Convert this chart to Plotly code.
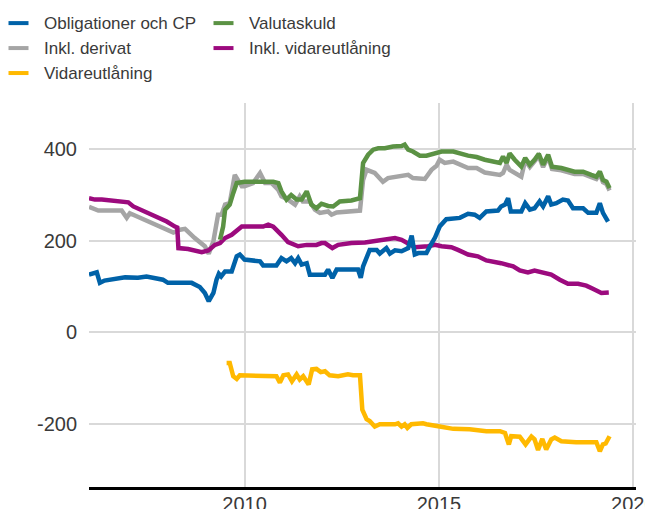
import plotly.graph_objects as go

# decimal years / values (mdr kr)
oblig_t = [2006.0, 2006.2, 2006.28, 2006.4, 2006.93, 2007.26, 2007.48, 2007.9, 2008.03, 2008.64,
           2008.85, 2008.98, 2009.08, 2009.2, 2009.28, 2009.34, 2009.4, 2009.5, 2009.67, 2009.8,
           2009.88, 2010.0, 2010.4, 2010.48, 2010.82, 2010.95, 2011.08, 2011.2, 2011.3, 2011.38,
           2011.47, 2011.6, 2011.68, 2012.07, 2012.15, 2012.26, 2012.37, 2012.92, 2012.99, 2013.05,
           2013.22, 2013.4, 2013.48, 2013.65, 2013.74, 2013.87, 2014.04, 2014.21, 2014.3, 2014.38,
           2014.47, 2014.68, 2014.77, 2014.9, 2015.02, 2015.19, 2015.54, 2015.75, 2015.92, 2016.05,
           2016.22, 2016.52, 2016.6, 2016.7, 2016.78, 2016.85, 2017.12, 2017.22, 2017.34, 2017.46,
           2017.59, 2017.68, 2017.81, 2017.89, 2018.02, 2018.19, 2018.32, 2018.45, 2018.71, 2018.84,
           2019.05, 2019.14, 2019.22, 2019.35]
oblig_v = [126, 131, 108, 113, 120, 119, 122, 115, 108, 108,
           99, 86, 68, 86, 115, 128, 122, 133, 133, 166,
           170, 159, 155, 146, 146, 162, 155, 162, 151, 162,
           148, 151, 126, 126, 137, 119, 137, 137, 119, 144,
           180, 180, 172, 184, 172, 179, 177, 184, 211, 170,
           173, 173, 188, 207, 231, 247, 250, 259, 257, 250,
           264, 266, 275, 279, 293, 264, 264, 282, 268, 271,
           286, 275, 297, 279, 282, 290, 288, 271, 271, 261,
           261, 282, 261, 242]

deriv_t = [2006.0, 2006.24, 2006.84, 2006.97, 2007.05, 2007.27, 2007.7, 2008.17, 2008.34, 2008.47,
           2008.72, 2008.98, 2009.08, 2009.2, 2009.32, 2009.41, 2009.5, 2009.62, 2009.75, 2009.93,
           2010.0, 2010.22, 2010.4, 2010.53, 2010.7, 2010.87, 2010.95, 2011.12, 2011.3, 2011.42,
           2011.5, 2011.68, 2011.81, 2011.94, 2012.15, 2012.24, 2012.37, 2012.58, 2012.97, 2013.05,
           2013.14, 2013.35, 2013.56, 2013.69, 2013.95, 2014.21, 2014.33, 2014.64, 2014.81, 2014.94,
           2015.02, 2015.15, 2015.37, 2015.58, 2015.75, 2015.97, 2016.18, 2016.57, 2016.65, 2016.74,
           2016.82, 2017.12, 2017.22, 2017.34, 2017.46, 2017.57, 2017.68, 2017.81, 2017.91, 2018.15,
           2018.49, 2018.71, 2018.92, 2019.05, 2019.14, 2019.22, 2019.31, 2019.39]
deriv_v = [274, 266, 266, 250, 260, 252, 235, 218, 224, 226,
           206, 188, 172, 199, 257, 257, 279, 282, 344, 319,
           319, 326, 348, 326, 326, 311, 297, 290, 279, 297,
           286, 286, 268, 261, 264, 257, 262, 264, 266, 333,
           355, 348, 329, 337, 340, 344, 337, 335, 355, 364,
           377, 370, 373, 366, 359, 359, 349, 344, 348, 366,
           355, 340, 376, 361, 372, 385, 361, 383, 357, 354,
           346, 346, 339, 335, 346, 328, 324, 310]

valuta_t = [2009.37, 2009.45, 2009.5, 2009.62, 2009.71, 2009.8, 2010.0, 2010.48, 2010.74, 2010.87,
            2010.95, 2011.08, 2011.2, 2011.34, 2011.47, 2011.6, 2011.72, 2011.85, 2011.98, 2012.15,
            2012.28, 2012.45, 2012.75, 2012.97, 2013.05, 2013.18, 2013.31, 2013.44, 2013.61, 2013.82,
            2014.04, 2014.12, 2014.21, 2014.33, 2014.51, 2014.68, 2014.85, 2015.07, 2015.37, 2015.54,
            2015.75, 2015.97, 2016.18, 2016.57, 2016.65, 2016.74, 2016.82, 2016.95, 2017.12, 2017.22,
            2017.34, 2017.46, 2017.57, 2017.68, 2017.81, 2017.91, 2018.15, 2018.49, 2018.71, 2018.92,
            2019.05, 2019.14, 2019.22, 2019.31, 2019.39]
valuta_v = [202, 231, 268, 279, 304, 326, 329, 329, 329, 326,
            308, 290, 300, 290, 290, 308, 279, 271, 281, 276,
            275, 286, 288, 293, 370, 388, 399, 402, 402, 406,
            407, 410, 399, 395, 386, 386, 391, 395, 395, 390,
            386, 383, 377, 370, 384, 370, 391, 377, 362, 381,
            366, 377, 390, 366, 388, 362, 359, 351, 351, 344,
            340, 351, 333, 329, 315]

inklvid_t = [2006.0, 2006.15, 2006.33, 2006.58, 2007.01, 2007.14, 2007.61, 2008.0, 2008.21, 2008.27,
             2008.3, 2008.55, 2008.9, 2009.07, 2009.24, 2009.37, 2009.5, 2009.67, 2009.93, 2010.27,
             2010.48, 2010.61, 2010.74, 2010.95, 2011.12, 2011.38, 2011.6, 2011.85, 2011.98, 2012.07,
             2012.26, 2012.41, 2012.75, 2013.1, 2013.44, 2013.87, 2014.04, 2014.21, 2014.38, 2014.72,
             2014.9, 2015.07, 2015.32, 2015.49, 2015.75, 2016.0, 2016.22, 2016.6, 2016.91, 2017.08,
             2017.29, 2017.46, 2017.72, 2017.89, 2018.11, 2018.32, 2018.58, 2018.79, 2018.96, 2019.18,
             2019.37]
inklvid_v = [293, 290, 290, 287, 284, 275, 257, 242, 231, 229,
             184, 182, 175, 179, 191, 195, 206, 213, 231, 231,
             231, 235, 231, 213, 197, 188, 191, 191, 195, 195,
             184, 191, 195, 196, 201, 206, 202, 195, 186, 188,
             191, 188, 186, 180, 170, 166, 157, 151, 144, 135,
             131, 135, 130, 126, 115, 106, 106, 102, 95, 86,
             87]

vidare_t = [2009.54, 2009.62, 2009.71, 2009.8, 2009.88, 2010.35, 2010.82, 2010.91, 2011.0, 2011.12,
            2011.22, 2011.34, 2011.42, 2011.51, 2011.65, 2011.74, 2011.85, 2011.96, 2012.07, 2012.19,
            2012.41, 2012.66, 2012.79, 2012.97, 2013.03, 2013.14, 2013.22, 2013.35, 2013.48, 2013.87,
            2013.95, 2014.04, 2014.12, 2014.19, 2014.29, 2014.59, 2014.68, 2015.02, 2015.37, 2015.79,
            2016.22, 2016.57, 2016.7, 2016.8, 2016.86, 2017.08, 2017.23, 2017.38, 2017.46, 2017.55,
            2017.66, 2017.76, 2017.89, 2017.98, 2018.15, 2018.53, 2019.05, 2019.14, 2019.22, 2019.29,
            2019.39]
vidare_v = [-67, -67, -96, -102, -94, -94, -96, -110, -94, -92,
            -107, -92, -103, -96, -114, -81, -80, -87, -85, -94,
            -96, -92, -94, -94, -169, -190, -194, -206, -201, -201,
            -199, -206, -201, -209, -201, -199, -201, -206, -211, -212,
            -216, -216, -220, -245, -227, -228, -245, -228, -234, -257,
            -233, -256, -234, -230, -238, -240, -240, -260, -245, -243,
            -227]

x_ticks = [2010, 2015, 2020]
y_ticks = [-200, 0, 200, 400]

# (name, t, v, color) in drawing order
series = [
    ("Inkl. derivat", deriv_t, deriv_v, "#a5a5a5"),
    ("Inkl. vidareutlåning", inklvid_t, inklvid_v, "#9c0a7e"),
    ("Valutaskuld", valuta_t, valuta_v, "#5b9244"),
    ("Obligationer och CP", oblig_t, oblig_v, "#0062a8"),
    ("Vidareutlåning", vidare_t, vidare_v, "#ffb900"),
]
legend_order = ["Obligationer och CP", "Inkl. derivat", "Vidareutlåning",
                "Valutaskuld", "Inkl. vidareutlåning"]

# page body has an 8px margin, so the figure is 8px smaller than the window
W, H = 645, 501
L, R, T, B = 81, 17, 95, 21.5
FONT = "Liberation Sans, Arial, sans-serif"
TXT = "#3a3a3a"

fig = go.Figure()
for name, t, v, color in series:
    fig.add_trace(go.Scatter(x=t, y=v, mode="lines", name=name,
                             line=dict(color=color, width=4.5), showlegend=False))


def px_x(x):
    return (x - L) / (W - L - R)


def px_y(y):
    return (H - B - y) / (H - T - B)


# hand-built legend: two columns, three rows
colors = {s[0]: s[3] for s in series}
shapes, annotations = [], []
for i, name in enumerate(legend_order):
    col, row = (0, i) if i < 3 else (1, i - 3)
    sx = 0.5 + col * 205
    sy = 15 + row * 25
    shapes.append(dict(type="line", xref="paper", yref="paper",
                       x0=px_x(sx), x1=px_x(sx + 20), y0=px_y(sy), y1=px_y(sy),
                       line=dict(color=colors[name], width=4)))
    annotations.append(dict(text=name, xref="paper", yref="paper",
                            x=px_x(sx + 33), y=px_y(sy), xanchor="left", yanchor="middle",
                            showarrow=False, font=dict(size=17, color=TXT, family=FONT)))

fig.update_layout(
    width=W, height=H,
    margin=dict(l=L, r=R, t=T, b=B, autoexpand=False),
    paper_bgcolor="white", plot_bgcolor="white",
    font=dict(family=FONT, size=20, color=TXT),
    shapes=shapes, annotations=annotations,
    showlegend=False,
)
fig.update_xaxes(range=[2006.0, 2020.07], tickvals=x_ticks, ticktext=[str(x) for x in x_ticks],
                 showgrid=True, gridcolor="#d9d9d9", gridwidth=1.5,
                 showline=True, linecolor="black", linewidth=2.5, zeroline=False,
                 ticks="", ticklabelstandoff=-3, ticklabeloverflow="allow",
                 automargin=False)
fig.update_yaxes(range=[-338, 501], tickvals=y_ticks, ticktext=[str(y) for y in y_ticks],
                 showgrid=True, gridcolor="#d9d9d9", gridwidth=1.5,
                 zeroline=False, showline=False, ticks="", ticklabelstandoff=11,
                 automargin=False)

fig.write_html("out.html")
